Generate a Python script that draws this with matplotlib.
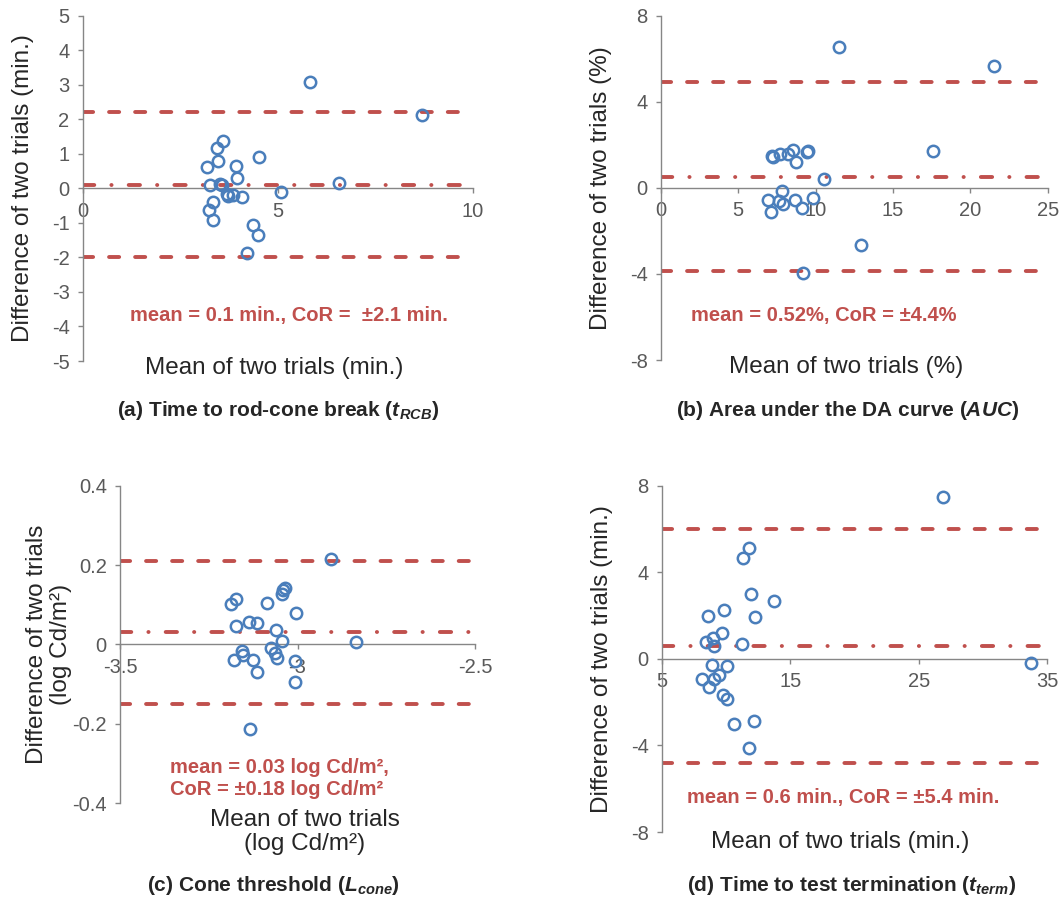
import numpy as np
import matplotlib
matplotlib.use('Agg')
import matplotlib.pyplot as plt

plt.rcParams['font.family'] = ['Liberation Sans', 'DejaVu Sans']
plt.rcParams['axes.unicode_minus'] = False
plt.rcParams['mathtext.fontset'] = 'custom'
plt.rcParams['mathtext.rm'] = 'Liberation Sans'
plt.rcParams['mathtext.it'] = 'Liberation Sans:italic'
plt.rcParams['mathtext.bf'] = 'Liberation Sans:bold'
plt.rcParams['mathtext.bfit'] = 'Liberation Sans:italic:bold'

# (a) time to rod-cone break, min.
a_mean_x = [5.83, 3.61, 3.44, 3.48, 3.18, 3.92, 4.52, 3.95, 3.26, 3.52, 3.58, 3.73,
            3.86, 4.08, 3.69, 5.08, 3.33, 3.25, 3.35, 4.37, 4.49, 4.21, 6.58, 8.69]
a_diff_y = [3.07, 1.37, 1.18, 0.79, 0.63, 0.64, 0.90, 0.31, 0.09, 0.14, 0.09, -0.22,
            -0.20, -0.25, -0.17, -0.12, -0.40, -0.63, -0.92, -1.06, -1.35, -1.86, 0.16, 2.12]
a_bias, a_cor = 0.1, 2.1

# (b) area under the DA curve, %
b_mean_x = [11.53, 7.16, 7.27, 7.70, 8.24, 8.52, 8.73, 9.42, 9.53, 10.56, 7.81, 6.94,
            7.65, 7.87, 7.10, 8.67, 9.10, 9.85, 12.92, 9.20, 21.55, 17.57]
b_diff_y = [6.54, 1.50, 1.43, 1.58, 1.58, 1.78, 1.20, 1.66, 1.72, 0.42, -0.13, -0.56,
            -0.59, -0.74, -1.13, -0.56, -0.93, -0.48, -2.65, -3.95, 5.64, 1.69]
b_bias, b_cor = 0.52, 4.4

# (c) cone threshold, log Cd/m2
c_mean_x = [-2.907, -3.172, -3.186, -3.086, -3.036, -3.041, -3.045, -3.003, -3.172,
            -3.136, -3.114, -3.061, -3.045, -2.834, -3.076, -3.155, -3.153, -3.064,
            -3.059, -3.179, -3.125, -3.006, -3.114, -3.008, -3.134]
c_diff_y = [0.214, 0.114, 0.101, 0.103, 0.141, 0.136, 0.128, 0.078, 0.047, 0.057,
            0.053, 0.036, 0.009, 0.007, -0.008, -0.018, -0.027, -0.023, -0.035,
            -0.039, -0.039, -0.041, -0.069, -0.096, -0.213]
c_bias, c_cor = 0.03, 0.18

# (d) time to test termination, min.
d_mean_x = [11.82, 11.35, 11.95, 13.76, 9.87, 8.63, 12.26, 9.67, 9.02, 8.45, 9.07,
            11.27, 8.94, 10.06, 9.48, 9.09, 8.11, 8.70, 9.79, 10.06, 10.63, 12.18,
            11.82, 26.91, 33.72]
d_diff_y = [5.11, 4.65, 3.00, 2.68, 2.26, 1.99, 1.95, 1.19, 0.98, 0.80, 0.60, 0.69,
            -0.28, -0.31, -0.74, -0.94, -0.92, -1.28, -1.66, -1.86, -3.00, -2.85,
            -4.12, 7.50, -0.17]
d_bias, d_cor = 0.6, 5.4

BLUE = '#4A7EBB'
RED = '#C0504D'
GREY = '#868686'
TICK = '#595959'
DARK = '#262626'

fig = plt.figure(figsize=(10.61, 9.05), dpi=100)
W, H = 1061.0, 905.0


def make_axes(x0, x1, y0, y1):
    # pixel box -> figure fraction
    return fig.add_axes([x0 / W, 1 - y1 / H, (x1 - x0) / W, (y1 - y0) / H])


def panel(ax, xs, ys, bias, cor, xlim, ylim, xticks, yticks, yfmt):
    ax.set_xlim(xlim)
    ax.set_ylim(ylim)
    for s in ['top', 'right']:
        ax.spines[s].set_visible(False)
    ax.spines['bottom'].set_position(('data', 0))
    for s in ['left', 'bottom']:
        ax.spines[s].set_color(GREY)
        ax.spines[s].set_linewidth(1.0)
    ax.set_xticks(xticks)
    ax.set_yticks(yticks)
    ax.set_yticklabels([yfmt(v) for v in yticks])
    ax.tick_params(axis='both', direction='out', length=3.5, width=1.0, color=GREY,
                   labelcolor=TICK, labelsize=14.5)
    ax.tick_params(axis='y', pad=6)
    ax.tick_params(axis='x', pad=6)
    ax.patch.set_alpha(0)

    # limits of agreement (dashed) and mean difference (dash-dot)
    lo, hi = xlim
    ax.plot([lo, hi], [bias + cor, bias + cor], color=RED, lw=2.8,
            dashes=(2.6, 4.1), dash_capstyle='round', zorder=2)
    ax.plot([lo, hi], [bias - cor, bias - cor], color=RED, lw=2.8,
            dashes=(2.6, 4.1), dash_capstyle='round', zorder=2)
    ax.plot([lo, hi], [bias, bias], color=RED, lw=2.8,
            dashes=(2.9, 4.4, 0.05, 4.4), dash_capstyle='round', zorder=2)
    ax.plot(xs, ys, 'o', ms=8.2, mfc='none', mec=BLUE, mew=1.8, zorder=3,
            clip_on=False)


LAB = 17.5
NOTE = 14.5

ax_a = make_axes(82.7, 472.7, 15.7, 361)
panel(ax_a, a_mean_x, a_diff_y, a_bias, a_cor, (0, 10), (-5, 5), [0, 5, 10],
      np.arange(-5, 6, 1), lambda v: '%d' % v)
ax_a.set_ylabel('Difference of two trials (min.)', fontsize=LAB, color=DARK, labelpad=13)
ax_a.text(0.53, 0.133, 'mean = 0.1 min., CoR =  ±2.1 min.', transform=ax_a.transAxes,
          ha='center', va='center', color=RED, fontsize=NOTE, fontweight='bold')
ax_a.text(0.49, -0.02, 'Mean of two trials (min.)', transform=ax_a.transAxes,
          ha='center', va='center', color=DARK, fontsize=LAB)

ax_b = make_axes(660.9, 1047.7, 15.7, 360)
panel(ax_b, b_mean_x, b_diff_y, b_bias, b_cor, (0, 25), (-8, 8), [0, 5, 10, 15, 20, 25],
      [-8, -4, 0, 4, 8], lambda v: '%d' % v)
ax_b.set_ylabel('Difference of two trials (%)', fontsize=LAB, color=DARK, labelpad=13)
ax_b.text(0.42, 0.128, 'mean = 0.52%, CoR = ±4.4%', transform=ax_b.transAxes,
          ha='center', va='center', color=RED, fontsize=NOTE, fontweight='bold')
ax_b.text(0.48, -0.02, 'Mean of two trials (%)', transform=ax_b.transAxes,
          ha='center', va='center', color=DARK, fontsize=LAB)

ax_c = make_axes(120, 475, 485.7, 803)
panel(ax_c, c_mean_x, c_diff_y, c_bias, c_cor, (-3.5, -2.5), (-0.4, 0.4),
      [-3.5, -3, -2.5], [-0.4, -0.2, 0, 0.2, 0.4], lambda v: '%g' % round(v, 1))
ax_c.set_xticklabels(['-3.5', '-3', '-2.5'])
ax_c.set_ylabel('Difference of two trials\n(log Cd/m²)', fontsize=LAB, color=DARK,
                labelpad=0, linespacing=1.15)
ax_c.text(0.14, 0.077, 'mean = 0.03 log Cd/m²,\nCoR = ±0.18 log Cd/m²',
          transform=ax_c.transAxes, ha='left', va='center', color=RED, fontsize=NOTE,
          fontweight='bold', linespacing=1.15)
ax_c.text(0.52, -0.091, 'Mean of two trials\n(log Cd/m²)', transform=ax_c.transAxes,
          ha='center', va='center', color=DARK, fontsize=LAB, linespacing=1.1)

ax_d = make_axes(661.7, 1047.3, 485.7, 832)
panel(ax_d, d_mean_x, d_diff_y, d_bias, d_cor, (5, 35), (-8, 8), [5, 15, 25, 35],
      [-8, -4, 0, 4, 8], lambda v: '%d' % v)
ax_d.set_ylabel('Difference of two trials (min.)', fontsize=LAB, color=DARK, labelpad=13)
ax_d.text(0.47, 0.1, 'mean = 0.6 min., CoR = ±5.4 min.', transform=ax_d.transAxes,
          ha='center', va='center', color=RED, fontsize=NOTE, fontweight='bold')
ax_d.text(0.462, -0.029, 'Mean of two trials (min.)', transform=ax_d.transAxes,
          ha='center', va='center', color=DARK, fontsize=LAB)

titles = [
    (278, 410, r'(a) Time to rod-cone break ($\mathbfit{t_{RCB}}$)'),
    (848, 410, r'(b) Area under the DA curve ($\mathbfit{AUC}$)'),
    (273, 885, r'(c) Cone threshold ($\mathbfit{L_{cone}}$)'),
    (852, 885, r'(d) Time to test termination ($\mathbfit{t_{term}}$)'),
]
for px, py, t in titles:
    fig.text(px / W, 1 - py / H, t, ha='center', va='center', fontsize=15,
             fontweight='bold', color=DARK)

fig.savefig('out.png', dpi=100)
